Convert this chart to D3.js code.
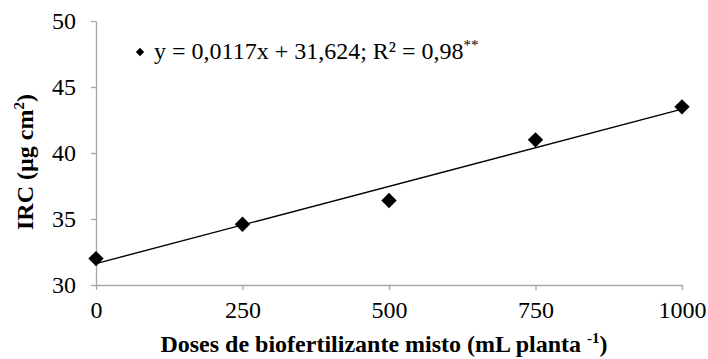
<!DOCTYPE html>
<html>
<head>
<meta charset="utf-8">
<script src="https://cdn.jsdelivr.net/npm/d3@7"></script>
<style>
  body { margin: 0; background: #fff; }
  svg, svg text { font-family: "Liberation Serif", "Times New Roman", Times, serif !important; }
</style>
</head>
<body>
<div id="vis"></div>
<script>
const FRAME_WIDTH = 708;
const FRAME_HEIGHT = 359;
const MARGINS = {left: 96, right: 26, top: 21, bottom: 74};

const doses = [0, 250, 500, 750, 1000];
const irc = [32.0, 34.6, 36.4, 41.0, 43.5];
const xTicks = [0, 250, 500, 750, 1000];
const yTicks = [30, 35, 40, 45, 50];
const slope = 0.0117;
const intercept = 31.624;

const FS = "24px";
const SUP = "15px";

const VIS_WIDTH = FRAME_WIDTH - MARGINS.left - MARGINS.right;
const VIS_HEIGHT = FRAME_HEIGHT - MARGINS.top - MARGINS.bottom;

const svg = d3.select("#vis")
  .append("svg")
    .attr("width", FRAME_WIDTH)
    .attr("height", FRAME_HEIGHT);

const X_SCALE = d3.scaleLinear().domain([0, 1000]).range([0, VIS_WIDTH]);
const Y_SCALE = d3.scaleLinear().domain([30, 50]).range([VIS_HEIGHT, 0]);

const g = svg.append("g")
  .attr("transform", "translate(" + MARGINS.left + "," + MARGINS.top + ")");

// axes
const xAxis = g.append("g")
  .attr("transform", "translate(0," + VIS_HEIGHT + ")")
  .call(d3.axisBottom(X_SCALE).tickValues(xTicks).tickFormat(d3.format("d"))
    .tickSize(5).tickSizeOuter(0).tickPadding(14));

const yAxis = g.append("g")
  .call(d3.axisLeft(Y_SCALE).tickValues(yTicks).tickFormat(d3.format("d"))
    .tickSize(5).tickSizeOuter(0).tickPadding(15));

[xAxis, yAxis].forEach(a => {
  a.attr("font-family", null).attr("font-size", null);
  a.select(".domain").attr("stroke", "#a6a6a6").attr("stroke-width", 1.3);
  a.selectAll(".tick line").attr("stroke", "#a6a6a6").attr("stroke-width", 1.3);
  a.selectAll(".tick text")
    .attr("fill", "#000")
    .style("font-size", FS);
});
xAxis.selectAll(".tick text").attr("dy", "0.6em");
yAxis.selectAll(".tick text").attr("dy", "0.32em");

// trend line
g.append("line")
  .attr("x1", X_SCALE(0))
  .attr("y1", Y_SCALE(intercept))
  .attr("x2", X_SCALE(1000))
  .attr("y2", Y_SCALE(slope * 1000 + intercept))
  .attr("stroke", "#000")
  .attr("stroke-width", 1.4);

// points
const diamond = d3.symbol().type(d3.symbolDiamond2).size(150);
g.selectAll(".pt")
  .data(doses)
  .enter()
  .append("path")
    .attr("class", "pt")
    .attr("d", diamond)
    .attr("transform", (d, i) => "translate(" + X_SCALE(d) + "," + Y_SCALE(irc[i]) + ")")
    .attr("fill", "#000");

// legend / equation
g.append("path")
  .attr("d", d3.symbol().type(d3.symbolDiamond2).size(45))
  .attr("transform", "translate(" + 44 + "," + 31 + ")")
  .attr("fill", "#000");

const eq = g.append("text")
  .attr("x", 58)
  .attr("y", 38)
  .style("font-size", FS)
  .attr("fill", "#000");
eq.append("tspan").text("y = 0,0117x + 31,624; R² = 0,98");
eq.append("tspan").style("font-size", SUP).attr("dy", "-9").text("**");

// axis titles
const xt = svg.append("text")
  .attr("x", 384)
  .attr("y", 352)
  .attr("text-anchor", "middle")
  .style("font-size", FS)
  .attr("font-weight", "bold")
  .attr("fill", "#000");
xt.append("tspan").text("Doses de biofertilizante misto (mL planta ");
xt.append("tspan").style("font-size", SUP).attr("dy", "-9").text("-1");
xt.append("tspan").attr("dy", "9").text(")");

const yt = svg.append("text")
  .attr("transform", "translate(33,162) rotate(-90)")
  .attr("text-anchor", "middle")
  .style("font-size", FS)
  .attr("font-weight", "bold")
  .attr("fill", "#000");
yt.append("tspan").text("IRC (µg cm");
yt.append("tspan").style("font-size", SUP).attr("dy", "-9").text("2");
yt.append("tspan").attr("dy", "9").text(")");
</script>
</body>
</html>
